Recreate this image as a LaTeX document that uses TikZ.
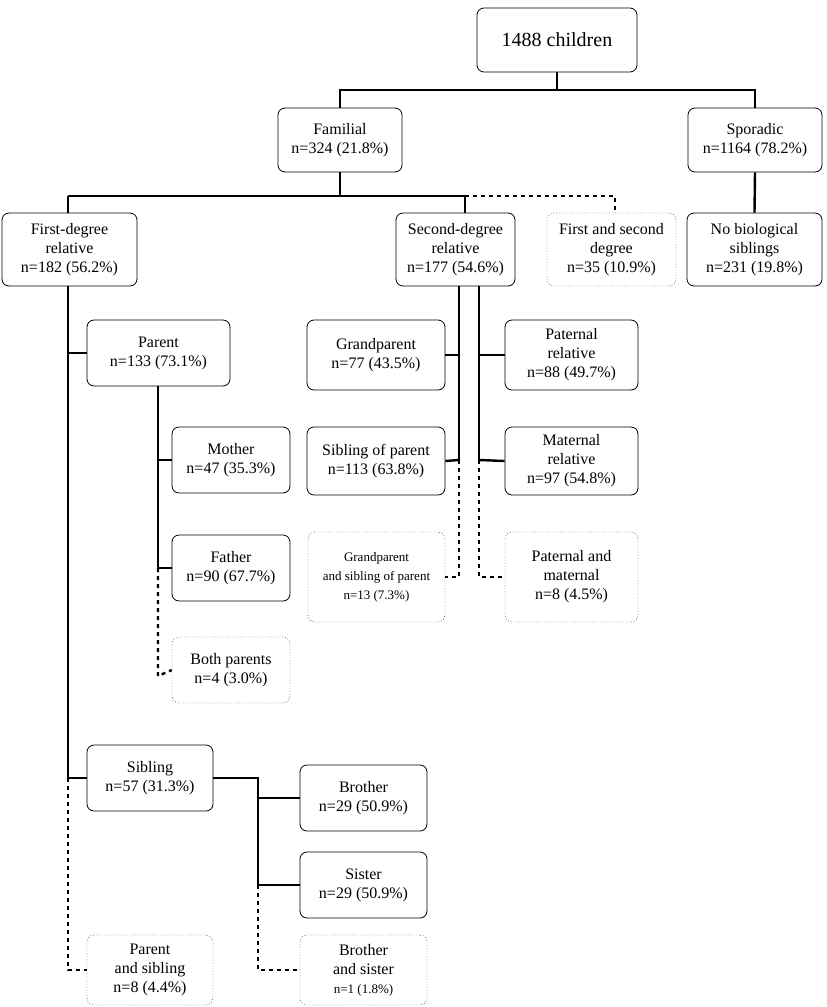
\documentclass[tikz,border=0pt]{standalone}
\usepackage{fontspec}
\setmainfont{Liberation Serif}
\begin{document}
\begin{tikzpicture}[x=1pt,y=-1pt,
 box/.style={draw,thick,rounded corners=7pt,align=center,inner sep=1pt,font=\fontsize{16}{19}\selectfont},
 dbox/.style={box,dotted,thin},
 ln/.style={line width=2.4pt},
 dl/.style={line width=2.4pt,dash pattern=on 4pt off 4pt}]
\useasboundingbox (0,0) rectangle (827,1007);
\newcommand{\bx}[7]{\node[#1,minimum width=#4-#3,minimum height=#6-#5] (#2) at ({(#3+#4)/2},{(#5+#6)/2}) {#7};}
\bx{box,font=\fontsize{20}{24}\selectfont}{root}{477}{637}{8}{72}{1488 children}
\bx{box}{fam}{278}{402}{108}{172}{Familial\\n=324 (21.8\%)}
\bx{box}{spo}{688}{822}{108}{172}{Sporadic\\n=1164 (78.2\%)}
\bx{box}{fd}{2}{137}{213}{286}{First-degree\\relative\\n=182 (56.2\%)}
\bx{box}{sd}{396}{515}{213}{286}{Second-degree\\relative\\n=177 (54.6\%)}
\bx{dbox}{fs}{547}{676}{213}{286}{First and second\\degree\\n=35 (10.9\%)}
\bx{box}{nb}{687}{822}{213}{286}{No biological\\siblings\\n=231 (19.8\%)}
\bx{box}{par}{87}{230}{320}{386}{Parent\\n=133 (73.1\%)}
\bx{box}{mot}{172}{290}{427}{493}{Mother\\n=47 (35.3\%)}
\bx{box}{fat}{172}{290}{535}{601}{Father\\n=90 (67.7\%)}
\bx{dbox}{bp}{172}{290}{637}{703}{Both parents\\n=4 (3.0\%)}
\bx{box}{gp}{307}{445}{320}{390}{Grandparent\\n=77 (43.5\%)}
\bx{box}{sp}{307}{445}{427}{495}{Sibling of parent\\n=113 (63.8\%)}
\bx{dbox,font=\fontsize{13}{19}\selectfont}{gsp}{308}{445}{532}{622}{Grandparent\\and sibling of parent\\n=13 (7.3\%)}
\bx{box}{pat}{505}{638}{320}{390}{Paternal\\relative\\n=88 (49.7\%)}
\bx{box}{mat}{505}{638}{427}{495}{Maternal\\relative\\n=97 (54.8\%)}
\bx{dbox}{pm}{505}{638}{532}{622}{Paternal and\\maternal\\n=8 (4.5\%)}
\bx{box}{sib}{87}{213}{745}{811}{Sibling\\n=57 (31.3\%)}
\bx{box}{bro}{300}{427}{765}{831}{Brother\\n=29 (50.9\%)}
\bx{box}{sis}{300}{427}{852}{918}{Sister\\n=29 (50.9\%)}
\bx{dbox}{ps}{87}{213}{935}{1005}{Parent\\and sibling\\n=8 (4.4\%)}
\bx{dbox,font=\fontsize{16}{19}\selectfont}{bs}{300}{427}{935}{1005}{Brother\\and sister\\{\fontsize{13}{15}\selectfont n=1 (1.8\%)}}
% top
\draw[ln] (root.south) -- (557,90) -| (340,90) -- (fam.north);
\draw[ln] (557,90) -| (spo.north);
\draw[ln] (fam.south) -- (340,196);
\draw[ln] (68,196) -- (465,196);
\draw[ln] (68,196) -- (68,213);
\draw[ln] (465,196) -- (465,213);
\draw[dl] (465,196) -- (615,196) -- (615,213);
\draw[ln] (spo.south) -- (nb.north);
% first degree
\draw[ln] (68,286) -- (68,778);
\draw[ln] (68,353) -- (par.west);
\draw[ln] (68,778) -- (sib.west);
\draw[dl] (68,778) -- (68,970) -- (ps.west);
\draw[ln] (158,386) -- (158,568);
\draw[ln] (158,460) -- (mot.west);
\draw[ln] (158,568) -- (fat.west);
\draw[dl] (158,568) -- (158,676) -- (bp.west);
% second degree
\draw[ln] (459,286) -- (459,460);
\draw[ln] (459,355) -- (gp.east);
\draw[ln] (459,460) -- (sp.east);
\draw[dl] (459,460) -- (459,577) -- (gsp.east);
\draw[ln] (479,286) -- (479,460);
\draw[ln] (479,355) -- (pat.west);
\draw[ln] (479,460) -- (mat.west);
\draw[dl] (479,460) -- (479,577) -- (pm.west);
% sibling
\draw[ln] (sib.east) -- (258,778) -- (258,885);
\draw[ln] (258,798) -- (bro.west);
\draw[ln] (258,885) -- (sis.west);
\draw[dl] (258,885) -- (258,970) -- (bs.west);
\end{tikzpicture}
\end{document}
